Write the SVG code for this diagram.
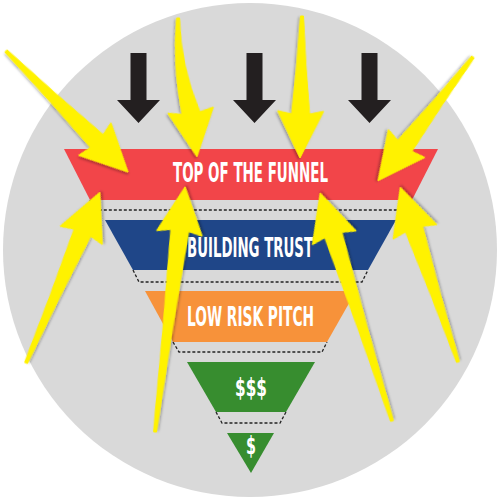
<svg xmlns="http://www.w3.org/2000/svg" width="500" height="500" viewBox="0 0 500 500">
<defs>
<style>
.lbl{font-family:"Liberation Sans Narrow","DejaVu Sans Condensed","Liberation Sans",sans-serif;font-weight:bold;fill:#ffffff;text-anchor:start}
.dot{fill:none;stroke:#222;stroke-width:1.3;stroke-dasharray:3 2}
.blk{fill:#231f20}
.yel{fill:#fff200;stroke:#fff200;stroke-width:1;stroke-linejoin:round;filter:url(#sh)}
</style>
<filter id="sh" x="-20%" y="-20%" width="140%" height="140%">
<feDropShadow dx="1.5" dy="1.5" stdDeviation="1.2" flood-color="#000" flood-opacity="0.3"/>
</filter>
</defs>
<circle cx="250" cy="250" r="247" fill="#d9d9d9"/>
<g id="black-arrows">
<path class="blk" d="M130.5,53 H146.5 V100 H160 L138.5,123 L117,100 H130.5 Z"/>
<path class="blk" d="M246.5,53 H262.5 V100 H276 L254.5,123 L233,100 H246.5 Z"/>
<path class="blk" d="M361.5,53 H377.5 V100 H391 L369.5,123 L348,100 H361.5 Z"/>
</g>
<g id="connectors">
<path class="dot" d="M90,200 L95,210 H407 L412,200"/>
<path class="dot" d="M133,270 L139,282 H362 L368,270"/>
<path class="dot" d="M173,342 L179,352 H322 L327,342"/>
<path class="dot" d="M216,412 L222,423 H280 L286,412"/>
</g>
<g id="top-of-funnel">
<path d="M64,149 H438 L412,200 H90 Z" fill="#f24549"/>
<text class="lbl" x="173" y="181.5" font-size="26" textLength="155" lengthAdjust="spacingAndGlyphs">TOP OF THE FUNNEL</text>
</g>
<g id="building-trust">
<path d="M105,220 H396 L368,270 H133 Z" fill="#1f4688"/>
<text class="lbl" x="187" y="257" font-size="26" textLength="126" lengthAdjust="spacingAndGlyphs">BUILDING TRUST</text>
</g>
<g id="low-risk-pitch">
<path d="M145,291 H356 L327,342 H173 Z" fill="#f7923a"/>
<text class="lbl" x="187" y="326" font-size="26" textLength="127" lengthAdjust="spacingAndGlyphs">LOW RISK PITCH</text>
</g>
<g id="three-dollars">
<path d="M187,362 H315 L286,412 H216 Z" fill="#378d2f"/>
<text class="lbl" x="235" y="396" font-size="25" textLength="32" lengthAdjust="spacingAndGlyphs">$$$</text>
</g>
<g id="one-dollar">
<path d="M227,433 H274 L251,473 Z" fill="#378d2f"/>
<text class="lbl" x="246" y="454" font-size="25" textLength="10" lengthAdjust="spacingAndGlyphs">$</text>
</g>
<g id="yellow-arrows">
<path class="yel" transform="translate(6,51) rotate(44.76)" d="M0,-1.5 Q64,-4 128,-9 L125,-23 L172,0 L125,23 L128,9 Q64,4 0,1.5 Z"/>
<path class="yel" transform="translate(178,18) rotate(82.2)" d="M0,-1.5 Q48,4 96,-9 L93,-23 L140,0 L93,23 L96,9 Q48,12 0,1.5 Z"/>
<path class="yel" transform="translate(302,16) rotate(90.8)" d="M0,-1.5 Q49,-4 98,-9 L95,-23 L142,0 L95,23 L98,9 Q49,4 0,1.5 Z"/>
<path class="yel" transform="translate(473,57) rotate(127.5)" d="M0,-1.5 Q56,-4 112,-9 L109,-23 L156,0 L109,23 L112,9 Q56,4 0,1.5 Z"/>
<path class="yel" transform="translate(26,363) rotate(-66.6)" d="M0,-1.5 Q71,-4 142,-9 L139,-23 L186,0 L139,23 L142,9 Q71,4 0,1.5 Z"/>
<path class="yel" transform="translate(155,432) rotate(-83)" d="M0,-1.5 Q101,-4 203,-9 L200,-23 L247,0 L200,23 L203,9 Q101,4 0,1.5 Z"/>
<path class="yel" transform="translate(392,421) rotate(-107.5)" d="M0,-1.5 Q97,-4 195,-9 L192,-23 L239,0 L192,23 L195,9 Q97,4 0,1.5 Z"/>
<path class="yel" transform="translate(458,362) rotate(-108.3)" d="M0,-1.5 Q70,-4 140,-9 L137,-23 L184,0 L137,23 L140,9 Q70,4 0,1.5 Z"/>
</g>
</svg>
